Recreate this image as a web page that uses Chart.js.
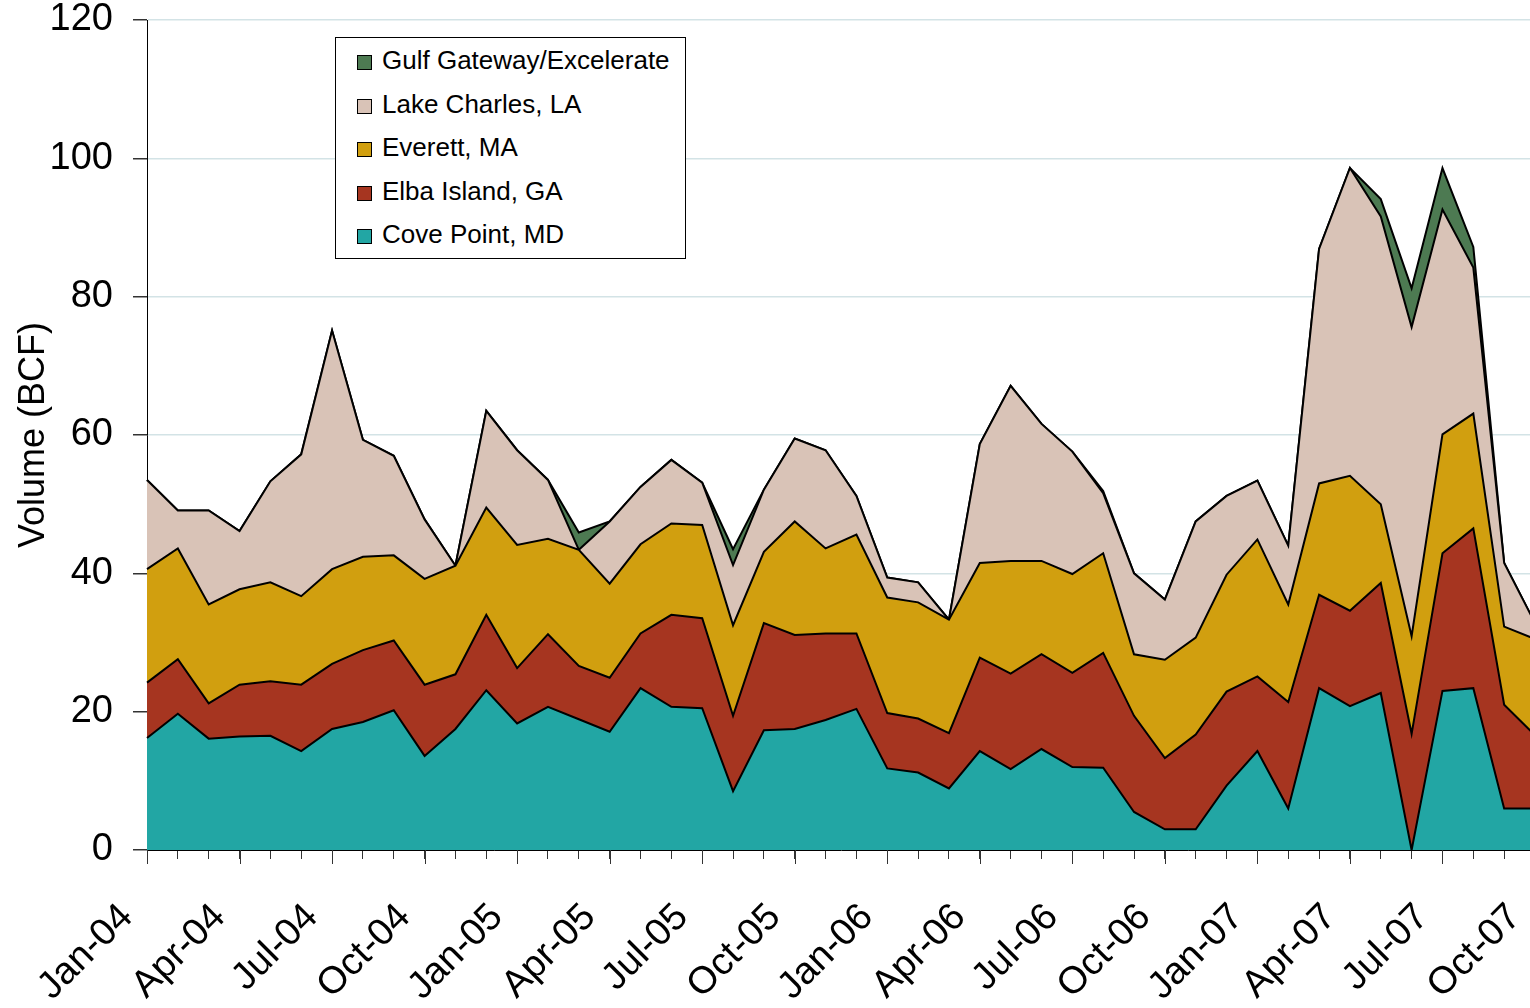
<!DOCTYPE html>
<html>
<head>
<meta charset="utf-8">
<script src="https://cdn.jsdelivr.net/npm/chart.js@4.4.1/dist/chart.umd.min.js"></script>
<style>
  html, body { margin: 0; padding: 0; background: #fff; overflow: hidden; }
  #wrap { position: relative; width: 1530px; height: 1008px; overflow: hidden; }
  #chart { position: absolute; left: 0; top: 0; }
  #legend {
    position: absolute; left: 335px; top: 37px; width: 349px; height: 220px;
    border: 1px solid #000; background: #fff;
    font-family: "Liberation Sans", Arial, sans-serif; font-size: 26px; color: #000;
  }
  #legend .item { position: absolute; left: 21px; height: 30px; line-height: 30px; white-space: nowrap; }
  #legend .box { display: inline-block; width: 13px; height: 13px; border: 1px solid #000; margin-right: 10px; vertical-align: -1px; }
</style>
</head>
<body>
<div id="wrap">
  <canvas id="chart" width="1545" height="1008" style="width:1545px;height:1008px"></canvas>
  <div id="legend"></div>
</div>
<script>
const meses = ['Jan-04','Feb-04','Mar-04','Apr-04','May-04','Jun-04','Jul-04','Aug-04','Sep-04','Oct-04','Nov-04','Dec-04',
  'Jan-05','Feb-05','Mar-05','Apr-05','May-05','Jun-05','Jul-05','Aug-05','Sep-05','Oct-05','Nov-05','Dec-05',
  'Jan-06','Feb-06','Mar-06','Apr-06','May-06','Jun-06','Jul-06','Aug-06','Sep-06','Oct-06','Nov-06','Dec-06',
  'Jan-07','Feb-07','Mar-07','Apr-07','May-07','Jun-07','Jul-07','Aug-07','Sep-07','Oct-07'];

const covePoint = [16.2,19.7,16.1,16.4,16.5,14.3,17.5,18.5,20.2,13.6,17.5,23.1,18.3,20.7,18.9,17.1,23.4,20.7,20.5,8.5,17.3,17.5,18.8,20.4,
  11.8,11.2,8.9,14.3,11.7,14.6,12.0,11.9,5.5,3.0,3.0,9.3,14.3,6.0,23.4,20.8,22.7,0,23.0,23.4,6.0,6.0];
const elbaIsland = [8.0,7.9,5.1,7.5,7.9,9.6,9.4,10.4,10.1,10.3,7.9,10.9,8.0,10.5,7.7,7.8,7.9,13.3,13.0,10.9,15.5,13.6,12.5,10.9,
  8.0,7.8,8.0,13.5,13.8,13.7,13.6,16.6,13.9,10.3,13.7,13.6,10.8,15.4,13.5,13.8,15.9,16.8,19.9,23.1,15.0,10.6];
const everett = [16.4,16.0,14.3,13.8,14.3,12.8,13.7,13.5,12.3,15.3,15.7,15.5,17.8,13.8,16.8,13.6,12.9,13.2,13.5,13.1,10.3,16.4,12.3,14.3,
  16.7,16.8,16.4,13.7,16.3,13.5,14.3,14.4,8.9,14.2,14.0,16.9,19.8,14.1,16.1,19.5,11.4,14.1,17.2,16.6,11.3,13.9];
const lakeCharles = [12.9,5.5,13.6,8.4,14.6,20.5,34.5,16.9,14.4,8.6,0,14.0,13.7,8.5,0,9.0,8.3,9.2,6.1,8.7,9.0,12.0,14.2,5.6,
  2.9,2.9,0,17.2,25.3,19.8,17.7,8.7,11.7,8.7,16.8,11.4,8.5,8.5,33.9,44.5,41.6,44.7,32.5,21.1,9.2,2.3];
const gulfGateway = [0,0,0,0,0,0,0,0,0,0,0,0,0,0,2.5,0,0,0,0,2.3,0,0,0,0,
  0,0,0,0,0,0,0,0.3,0,0,0,0,0,0,0,0,2.5,5.6,6.0,3.0,0,0];

const series = [
  { label: 'Cove Point, MD', data: covePoint, color: '#22A6A4' },
  { label: 'Elba Island, GA', data: elbaIsland, color: '#A63520' },
  { label: 'Everett, MA', data: everett, color: '#D19F0F' },
  { label: 'Lake Charles, LA', data: lakeCharles, color: '#D9C3B7' },
  { label: 'Gulf Gateway/Excelerate', data: gulfGateway, color: '#4D7A52' }
];

const fuente = '"Liberation Sans", Arial, sans-serif';

// leyenda en html, de arriba hacia abajo
const legend = document.getElementById('legend');
series.slice().reverse().forEach((s, i) => {
  const div = document.createElement('div');
  div.className = 'item';
  div.style.top = (7 + i * 43.5) + 'px';
  div.innerHTML = '<span class="box" style="background:' + s.color + '"></span>' + s.label;
  legend.appendChild(div);
});

// marcas largas en los meses con etiqueta
const marcasLargas = {
  id: 'marcasLargas',
  afterDraw(chart) {
    const x = chart.scales.x;
    const ctx = chart.ctx;
    ctx.save();
    ctx.strokeStyle = '#333';
    ctx.lineWidth = 1;
    meses.forEach((m, i) => {
      if (i % 3 !== 0) return;
      const px = Math.round(x.getPixelForValue(i)) + 0.5;
      ctx.beginPath();
      ctx.moveTo(px, x.top);
      ctx.lineTo(px, x.top + 14);
      ctx.stroke();
    });
    ctx.restore();
  }
};

new Chart(document.getElementById('chart').getContext('2d'), {
  type: 'line',
  data: {
    labels: meses,
    datasets: series.map((s, i) => ({
      label: s.label,
      data: s.data,
      backgroundColor: s.color,
      borderColor: '#000',
      borderWidth: 2,
      pointRadius: 0,
      tension: 0,
      fill: i === 0 ? 'origin' : '-1'
    }))
  },
  options: {
    responsive: false,
    animation: false,
    layout: { padding: { top: 20, right: 10, left: 0, bottom: 0 } },
    plugins: { legend: { display: false }, tooltip: { enabled: false } },
    scales: {
      x: {
        offset: false,
        grid: { drawOnChartArea: false, drawTicks: true, tickLength: 9, color: '#333' },
        border: { color: '#000', width: 1 },
        ticks: {
          autoSkip: false,
          maxRotation: 45,
          minRotation: 45,
          padding: 36,
          labelOffset: -20,
          color: '#000',
          font: { family: fuente, size: 38 },
          callback: (v, i) => (i % 3 === 0 ? meses[i] : '')
        },
        afterFit: (scale) => { scale.height = 158; scale.paddingLeft = 0; scale.paddingRight = 0; }
      },
      y: {
        stacked: true,
        min: 0,
        max: 120,
        ticks: { stepSize: 20, padding: 20, color: '#000', font: { family: fuente, size: 38 } },
        grid: { color: '#D3E3E6', lineWidth: 1.5, tickLength: 14, tickColor: '#333' },
        border: { color: '#000', width: 1 },
        title: { display: true, text: 'Volume (BCF)', color: '#000', font: { family: fuente, size: 36 }, padding: { top: 12, bottom: 0 } },
        afterFit: (scale) => { scale.width = 147; scale.paddingTop = 0; scale.paddingBottom = 0; }
      }
    }
  },
  plugins: [marcasLargas]
});
</script>
</body>
</html>
